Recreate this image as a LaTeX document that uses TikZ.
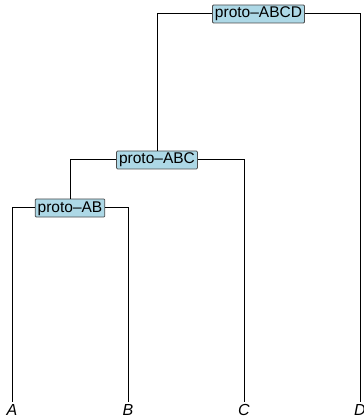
\documentclass[tikz,border=0pt]{standalone}
\usepackage{fontspec}
\setmainfont{Liberation Sans}
\usetikzlibrary{positioning}
\definecolor{lightblue}{HTML}{ADD8E6}
\tikzset{proto/.style = {draw = black!70, fill = lightblue,
                         rounded corners = 1pt, line width = 0.8pt,
                         inner xsep = 2.5pt, inner ysep = 1.5pt,
                         text height = 11.5pt, text depth = 3.5pt,
                         font = \fontsize{15.5}{18}\selectfont}}
\tikzset{leaf/.style = {anchor = north, inner xsep = 0, inner ysep = 2pt,
                        text height = 11.5pt, text depth = 0pt,
                        font = \fontsize{16}{18}\selectfont\itshape}}
\tikzset{branch/.style = {line width = 1pt}}

\begin{document}
\begin{tikzpicture}[x = 1pt, y = -1pt]
    \useasboundingbox (0, 0) rectangle (363, 419);

    \node [leaf] (A) at (12, 402) {A};
    \node [leaf] (B) at (128, 402) {B};
    \node [leaf] (C) at (244, 402) {C};
    \node [leaf] (D) at (360, 402) {D};

    \node [proto] (ab) at (70, 208) {proto–AB};
    \node [proto] (abc) at (157, 160) {proto–ABC};
    \node [proto] (abcd) at (258.5, 14) {proto–ABCD};

    \draw [branch] (ab.west) -| (A.north);
    \draw [branch] (ab.east) -| (B.north);
    \draw [branch] (abc.west) -| (ab.north);
    \draw [branch] (abc.east) -| (C.north);
    \draw [branch] (abcd.west) -| (abc.north);
    \draw [branch] (abcd.east) -| (D.north);
  \end{tikzpicture}
\end{document}
